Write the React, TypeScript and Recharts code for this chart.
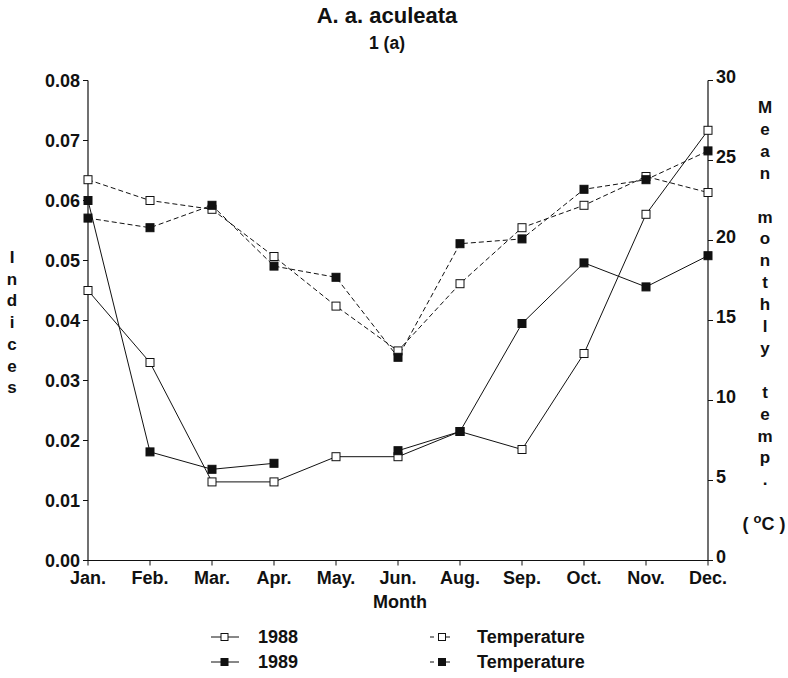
import React from 'react';
import { LineChart, Line, XAxis, YAxis, Legend, Label } from 'recharts';

const months = ['Jan.', 'Feb.', 'Mar.', 'Apr.', 'May.', 'Jun.', 'Aug.', 'Sep.', 'Oct.', 'Nov.', 'Dec.'];
const idx1988 = [0.045, 0.033, 0.0131, 0.0131, 0.0173, 0.0173, 0.0215, 0.0185, 0.0345, 0.0577, 0.0717];
const idx1989 = [0.06, 0.0181, 0.0152, 0.0162, null, 0.0183, 0.0215, 0.0395, 0.0496, 0.0456, 0.0508];
const temp1988 = [23.8, 22.5, 21.95, 19.0, 15.9, 13.1, 17.3, 20.8, 22.2, 24.0, 23.0];
const temp1989 = [21.4, 20.8, 22.2, 18.4, 17.7, 12.7, 19.8, 20.1, 23.2, 23.8, 25.6];
const leftTicks = [0, 0.01, 0.02, 0.03, 0.04, 0.05, 0.06, 0.07, 0.08];
const rightTicks = [0, 5, 10, 15, 20, 25, 30];
const leftLabel = ['I', 'n', 'd', 'i', 'c', 'e', 's'];
const rightLabel = ['M', 'e', 'a', 'n', '', 'm', 'o', 'n', 't', 'h', 'l', 'y', '', 't', 'e', 'm', 'p', '.'];

const data = months.map((m, i) => ({
  month: m,
  i88: idx1988[i],
  i89: idx1989[i],
  t88: temp1988[i],
  t89: temp1989[i],
}));

const FONT = "'Liberation Sans', Arial, Helvetica, sans-serif";
const INK = '#111';

const openSq = (props: any) => {
  const { cx, cy, index } = props;
  if (cx == null || cy == null) return <g key={`o-${index}`} />;
  return <rect key={`o-${index}`} x={cx - 4} y={cy - 4} width={8} height={8} fill="#fff" stroke={INK} strokeWidth={1} />;
};
const openSqT = (props: any) => {
  const { cx, cy, index } = props;
  if (cx == null || cy == null) return <g key={`ot-${index}`} />;
  return <rect key={`ot-${index}`} x={cx - 4} y={cy - 4} width={8} height={8} fill="#fff" stroke={INK} strokeWidth={1} />;
};
const fillSq = (props: any) => {
  const { cx, cy, index } = props;
  if (cx == null || cy == null) return <g key={`f-${index}`} />;
  return <rect key={`f-${index}`} x={cx - 4} y={cy - 4} width={8} height={8} fill={INK} stroke={INK} strokeWidth={1} />;
};
const fillSqT = (props: any) => {
  const { cx, cy, index } = props;
  if (cx == null || cy == null) return <g key={`ft-${index}`} />;
  return <rect key={`ft-${index}`} x={cx - 4} y={cy - 4} width={8} height={8} fill={INK} stroke={INK} strokeWidth={1} />;
};

const tickStyle = { fill: INK, fontSize: 18, fontWeight: 700, fontFamily: FONT };

const RightTick = (props: any) => {
  const { x, y, payload } = props;
  return (
    <text x={x + 1} y={y - 4} dy="0.355em" textAnchor="start" fill={INK} fontSize={18} fontWeight={700} fontFamily={FONT}>
      {payload.value}
    </text>
  );
};

const LegendBox = () => (
  <svg width={450} height={56} style={{ display: 'block' }}>
    <g fontFamily={FONT} fontWeight={700} fontSize={18} fill={INK}>
      <line x1={31} x2={59} y1={17} y2={17} stroke={INK} strokeWidth={1} />
      <rect x={41} y={13.5} width={7} height={7} fill="#fff" stroke={INK} />
      <text x={78} y={23}>1988</text>
      <line x1={31} x2={59} y1={42} y2={42} stroke={INK} strokeWidth={1} />
      <rect x={41} y={38.5} width={7} height={7} fill={INK} stroke={INK} />
      <text x={78} y={48}>1989</text>
      <line x1={250} x2={274} y1={17} y2={17} stroke={INK} strokeWidth={1} strokeDasharray="4 4" />
      <rect x={258.5} y={13.5} width={7} height={7} fill="#fff" stroke={INK} />
      <text x={297} y={23}>Temperature</text>
      <line x1={250} x2={274} y1={42} y2={42} stroke={INK} strokeWidth={1} strokeDasharray="4 4" />
      <rect x={258.5} y={38.5} width={7} height={7} fill={INK} stroke={INK} />
      <text x={297} y={48}>Temperature</text>
    </g>
  </svg>
);

const Annotations = () => (
  <g fontFamily={FONT} fontWeight={700} fill={INK}>
    <text x={387} y={23} textAnchor="middle" fontSize={22}>A. a. aculeata</text>
    <text x={387} y={49} textAnchor="middle" fontSize={17.5}>1 (a)</text>
    <text x={400} y={608} textAnchor="middle" fontSize={18}>Month</text>
  </g>
);

const LeftLabel = () => (
  <g fontFamily={FONT} fontWeight={700} fill={INK} fontSize={17}>
    {leftLabel.map((c, i) => (
      <text key={i} x={12} y={263 + i * 21.7} textAnchor="middle">{c}</text>
    ))}
  </g>
);

const RightLabel = () => (
  <g fontFamily={FONT} fontWeight={700} fill={INK} fontSize={17}>
    {rightLabel.map((c, i) => (
      <text key={i} x={765} y={113 + i * 21.9} textAnchor="middle">{c}</text>
    ))}
    <text x={764} y={530} textAnchor="middle" fontSize={18}>
      {'( '}
      <tspan dy={-7} fontSize={13}>o</tspan>
      <tspan dy={7}>C</tspan>
      {' )'}
    </text>
  </g>
);

export default function App() {
  return (
    <div style={{ position: 'absolute', left: 0, top: 0, width: 788, height: 678, background: '#fff' }}>
      <LineChart
        width={788}
        height={678}
        data={data}
        margin={{ top: 80.5, right: 0, bottom: 77.5, left: 0 }}
      >
        <XAxis
          dataKey="month"
          interval={0}
          height={40}
          tick={tickStyle}
          tickSize={5}
          tickMargin={6}
          axisLine={{ stroke: INK, strokeWidth: 1.2 }}
          tickLine={{ stroke: INK }}
        >
          <Label content={() => <Annotations />} />
        </XAxis>
        <YAxis
          yAxisId="left"
          width={88}
          domain={[0, 0.08]}
          ticks={leftTicks}
          tickFormatter={(v: number) => v.toFixed(2)}
          tick={tickStyle}
          tickSize={5}
          tickMargin={3}
          axisLine={{ stroke: INK, strokeWidth: 1.2 }}
          tickLine={{ stroke: INK }}
          allowDataOverflow
        >
          <Label content={() => <LeftLabel />} />
        </YAxis>
        <YAxis
          yAxisId="right"
          orientation="right"
          width={80}
          domain={[0, 30]}
          ticks={rightTicks}
          tick={RightTick}
          tickSize={5}
          tickMargin={2}
          axisLine={{ stroke: INK, strokeWidth: 1.2 }}
          tickLine={{ stroke: INK }}
          allowDataOverflow
        >
          <Label content={() => <RightLabel />} />
        </YAxis>
        <Legend
          layout="horizontal"
          verticalAlign="middle"
          align="center"
          wrapperStyle={{ left: 180, top: 620, width: 450, height: 56 }}
          content={() => <LegendBox />}
        />
        <Line yAxisId="right" dataKey="t88" name="Temperature" stroke={INK} strokeWidth={1} strokeDasharray="5 3" dot={openSqT} activeDot={false} isAnimationActive={false} />
        <Line yAxisId="right" dataKey="t89" name="Temperature" stroke={INK} strokeWidth={1} strokeDasharray="5 3" dot={fillSqT} activeDot={false} isAnimationActive={false} />
        <Line yAxisId="left" dataKey="i88" name="1988" stroke={INK} strokeWidth={1} dot={openSq} activeDot={false} isAnimationActive={false} />
        <Line yAxisId="left" dataKey="i89" name="1989" stroke={INK} strokeWidth={1} dot={fillSq} activeDot={false} isAnimationActive={false} />
      </LineChart>
    </div>
  );
}
